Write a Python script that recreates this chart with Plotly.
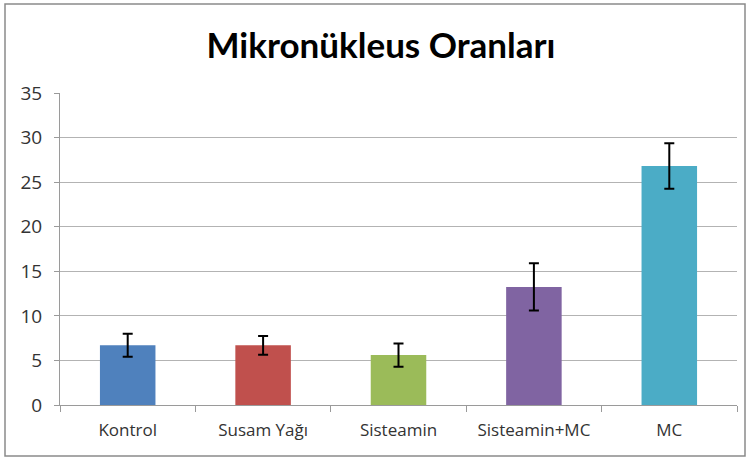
import plotly.graph_objects as go

categories = ["Kontrol", "Susam Yağı", "Sisteamin", "Sisteamin+MC", "MC"]
values = [6.7, 6.7, 5.6, 13.25, 26.8]
errors = [1.3, 1.05, 1.3, 2.65, 2.55]
colors = ["#4F81BD", "#C0504D", "#9BBB59", "#8064A2", "#4BACC6"]
y_ticks = [0, 5, 10, 15, 20, 25, 30, 35]

W, H = 750, 459
L, R, T, B = 60, 13, 93, 54

fig = go.Figure(go.Bar(
    x=categories, y=values,
    marker=dict(color=colors, line=dict(width=0)),
    width=0.41,
    error_y=dict(type="data", array=errors, visible=True,
                 color="black", thickness=2, width=5),
))

pw = W - L - R
ph = H - T - B
fig.add_shape(type="rect", xref="paper", yref="paper",
              x0=(5 - L) / pw, x1=(745 - L) / pw,
              y0=(H - B - 456) / ph, y1=(H - B - 4) / ph,
              line=dict(color="#8a8a8a", width=1.5), layer="below")

fig.update_layout(
    width=W, height=H,
    margin=dict(l=L, r=R, t=T, b=B),
    paper_bgcolor="white", plot_bgcolor="white",
    showlegend=False,
    title=dict(text="<b>Mikronükleus Oranları</b>", x=(381 - L) / pw, xref="paper",
               y=1 - 46 / H, yanchor="middle", xanchor="center",
               font=dict(family="Lato", size=35, color="black")),
    font=dict(family="Open Sans", size=16, color="#333333"),
)
fig.update_xaxes(showgrid=False, showline=True, linecolor="#9a9a9a", linewidth=1,
                 ticks="outside", tickson="boundaries", ticklen=6, tickcolor="#9a9a9a",
                 ticklabelstandoff=10,
                 tickfont=dict(size=17, color="#333333"))
fig.update_yaxes(range=[0, 35], tickvals=y_ticks, showgrid=True, gridcolor="#b3b3b3",
                 gridwidth=1.2, showline=True, linecolor="#9a9a9a", linewidth=1,
                 ticks="outside", ticklen=5, tickcolor="#9a9a9a", zeroline=False,
                 ticklabelstandoff=8,
                 tickfont=dict(size=19, color="#333333"))

fig.write_html("out.html", config={"displayModeBar": False},
               post_script="document.body.style.margin='0';document.body.style.padding='0';")
